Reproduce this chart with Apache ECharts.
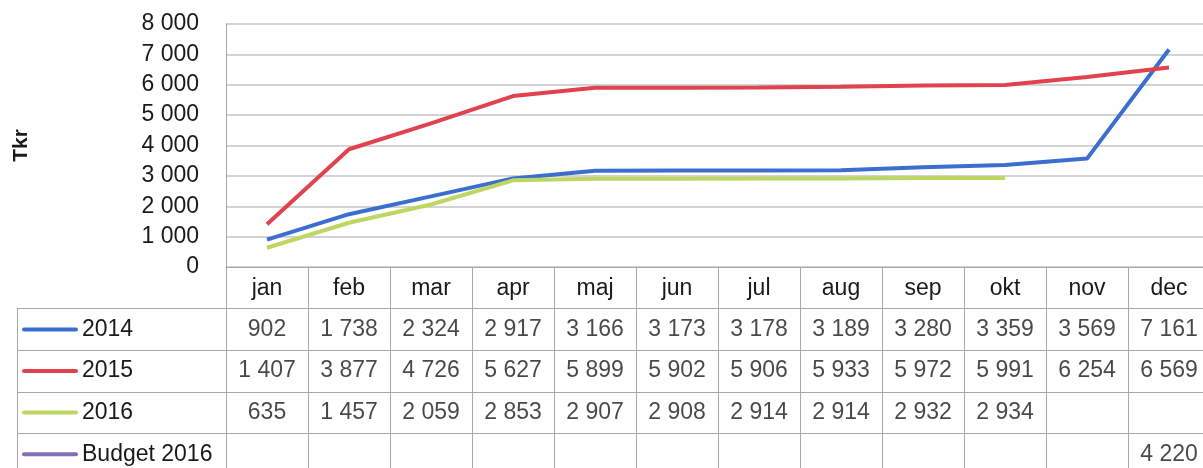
<!DOCTYPE html>
<html>
<head>
<meta charset="utf-8">
<script src="https://cdn.jsdelivr.net/npm/echarts@6/dist/echarts.min.js"></script>
<style>
  html, body { margin: 0; padding: 0; background: #fff; }
  #chart { width: 1203px; height: 468px; }
</style>
</head>
<body>
<div id="chart"></div>
<script>
const months = ['jan', 'feb', 'mar', 'apr', 'maj', 'jun', 'jul', 'aug', 'sep', 'okt', 'nov', 'dec']
const seriesNames = ['2014', '2015', '2016', 'Budget 2016']
const v2014 = [902, 1738, 2324, 2917, 3166, 3173, 3178, 3189, 3280, 3359, 3569, 7161]
const v2015 = [1407, 3877, 4726, 5627, 5899, 5902, 5906, 5933, 5972, 5991, 6254, 6569]
const v2016 = [635, 1457, 2059, 2853, 2907, 2908, 2914, 2914, 2932, 2934, null, null]
const vBudget = [null, null, null, null, null, null, null, null, null, null, null, 4220]
const colors = ['#3b6fcf', '#e0434e', '#bed763', '#8270b4']

const allValues = [v2014, v2015, v2016, vBudget]
const font = 'Liberation Sans'
const gridColor = '#c4c4c4'
const tableColor = '#a8a8a8'

function fmt(v) {
  return String(v).replace(/\B(?=(\d{3})+(?!\d))/g, ' ')
}

// cell texts for the data table
const cells = []
allValues.forEach((arr, r) => {
  arr.forEach((v, i) => {
    if (v != null) cells.push([i, r + 1, v])
  })
})

const rich = {}
colors.forEach((c, i) => {
  rich['l' + i] = { width: 56, height: 4, backgroundColor: c, borderRadius: 2 }
})
rich.t = { fontFamily: font, fontSize: 23, color: '#1a1a1a', padding: [0, 0, 0, 4] }

const chart = echarts.init(document.getElementById('chart'))
chart.setOption({
  animation: false,
  grid: [
    { left: 226, top: 24, width: 984, height: 243, outerBoundsMode: 'none' },
    { left: 226, top: 267, width: 984, height: 208, outerBoundsMode: 'none' },
    { left: 17, top: 308.6, width: 209, height: 166.4, outerBoundsMode: 'none' },
  ],
  xAxis: [
    {
      gridIndex: 0,
      type: 'category',
      data: months,
      boundaryGap: true,
      axisLine: { lineStyle: { color: tableColor } },
      axisTick: { show: false },
      axisLabel: { fontFamily: font, fontSize: 23, color: '#1a1a1a', margin: 10 },
    },
    {
      gridIndex: 1,
      type: 'category',
      data: months,
      position: 'top',
      axisLine: { show: false },
      axisTick: { show: false },
      axisLabel: { show: false },
      splitLine: { show: true, lineStyle: { color: tableColor, width: 1 } },
    },
    {
      gridIndex: 2,
      type: 'value',
      show: false,
    },
  ],
  yAxis: [
    {
      gridIndex: 0,
      type: 'value',
      min: 0,
      max: 8000,
      interval: 1000,
      name: 'Tkr',
      nameLocation: 'middle',
      nameGap: 194,
      nameRotate: 90,
      nameTextStyle: { fontFamily: font, fontSize: 21, fontWeight: 'bold', color: '#1a1a1a' },
      axisLine: { show: true, lineStyle: { color: tableColor } },
      axisTick: { show: false },
      axisLabel: { fontFamily: font, fontSize: 23, color: '#1a1a1a', margin: 27, formatter: fmt },
      splitLine: { lineStyle: { color: gridColor, width: 1.5 } },
    },
    {
      gridIndex: 1,
      type: 'category',
      inverse: true,
      data: ['header'].concat(seriesNames),
      axisLine: { show: true, lineStyle: { color: tableColor } },
      axisTick: { show: false },
      axisLabel: { show: false },
      splitLine: { show: true, lineStyle: { color: tableColor, width: 1 } },
    },
    {
      gridIndex: 2,
      type: 'category',
      inverse: true,
      data: seriesNames,
      axisLine: { show: true, lineStyle: { color: tableColor } },
      axisTick: { show: false },
      splitLine: { show: true, lineStyle: { color: tableColor, width: 1 } },
      axisLabel: {
        inside: true,
        margin: 5,
        formatter: function (value, idx) {
          return '{l' + idx + '| }{t|' + value + '}'
        },
        rich: rich,
      },
    },
  ],
  series: seriesNames.map((name, i) => ({
    name: name,
    type: 'line',
    xAxisIndex: 0,
    yAxisIndex: 0,
    data: allValues[i],
    showSymbol: false,
    lineStyle: { color: colors[i], width: 4 },
    itemStyle: { color: colors[i] },
  })).concat([
    {
      type: 'scatter',
      xAxisIndex: 1,
      yAxisIndex: 1,
      data: cells,
      symbolSize: 0,
      label: {
        show: true,
        position: 'inside',
        formatter: (p) => fmt(p.value[2]),
        fontFamily: font,
        fontSize: 23,
        color: '#1a1a1a',
      },
    },
  ]),
})
</script>
</body>
</html>
